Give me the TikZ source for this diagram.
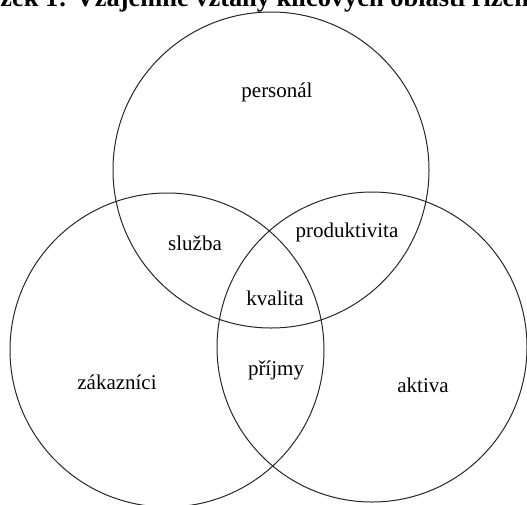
\documentclass[tikz,border=0pt]{standalone}
\usepackage{fontspec}
\setmainfont{Liberation Serif}
\begin{document}
\begin{tikzpicture}[x=1pt,y=-1pt,line join=round,line cap=round,
  ring/.style={circle,draw=black!85,line width=1pt,minimum size=312pt,inner sep=0pt},
  lbl/.style={font=\fontsize{21}{25}\selectfont,inner sep=0pt}]
\useasboundingbox (0,0) rectangle (527,504);
\clip (0,0) rectangle (527,504);
% nadpis (oriznuty)
\node[anchor=base west,inner sep=0pt,font=\fontsize{26.4}{30}\selectfont\bfseries] (titul)
  at (-60,6) {Obrázek 1: Vzájemné vztahy klíčových oblastí řízení};
% kruhy
\node[ring,minimum size=316pt] (kpers) at (271,170) {};
\node[ring,minimum size=314pt] (kzak) at (167,350) {};
\node[ring,minimum size=310pt] (kakt) at (372,347) {};
% popisky
\node[lbl] (personal) at (277,92) {personál};
\node[lbl] (sluzba) at (195,243) {služba};
\node[lbl] (produkt) at (347,232) {produktivita};
\node[lbl] (kvalita) at (275,298) {kvalita};
\node[lbl] (prijmy) at (276,370) {příjmy};
\node[lbl] (zakaznici) at (117,382) {zákazníci};
\node[lbl] (aktiva) at (423,385) {aktiva};
\end{tikzpicture}
\end{document}
